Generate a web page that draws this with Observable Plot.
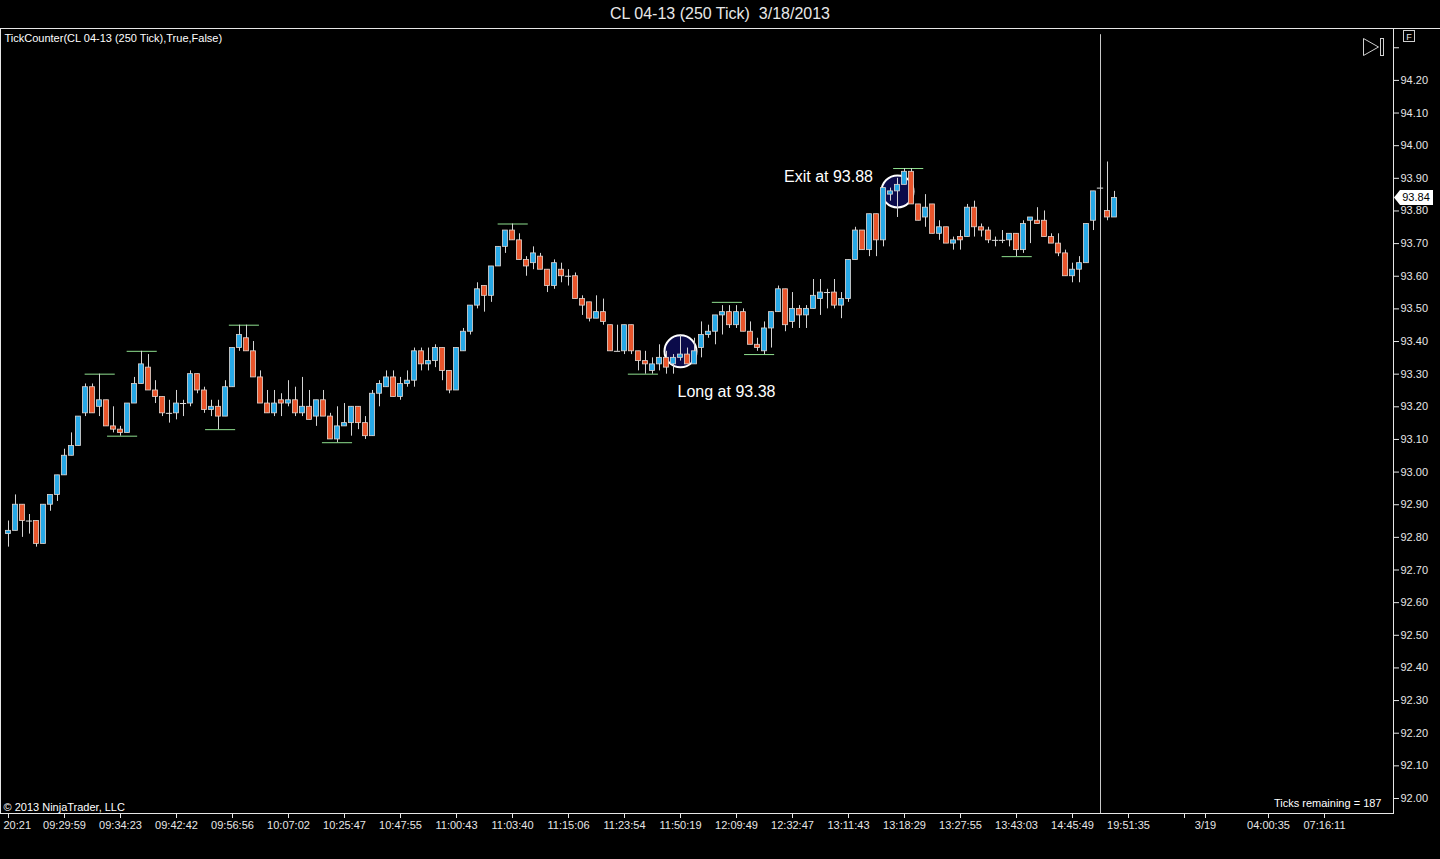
<!DOCTYPE html>
<html>
<head>
<meta charset="utf-8">
<script src="https://cdn.jsdelivr.net/npm/d3@7"></script>
<script src="https://cdn.jsdelivr.net/npm/@observablehq/plot@0.6"></script>
<style>
  body { margin: 0; background: black; overflow: hidden; }
  #title { height: 28px; text-align: center; color: #e8e8e8;
    font: 16px "Liberation Sans", Arial, sans-serif; line-height: 27px; white-space: pre; }
  #chart svg { display: block; }
</style>
</head>
<body>
<div id="title">CL 04-13 (250 Tick)  3/18/2013</div>
<div id="chart"></div>
<script>
// 250 tick candles, CL 04-13
const open = [
  92.81, 92.82, 92.90, 92.85, 92.85, 92.78, 92.90, 92.93, 92.99, 93.05,
  93.08, 93.18, 93.26, 93.20, 93.22, 93.14, 93.13, 93.12, 93.21, 93.27,
  93.32, 93.25, 93.23, 93.18, 93.18, 93.21, 93.21, 93.30, 93.25, 93.19,
  93.20, 93.17, 93.26, 93.38, 93.41, 93.37, 93.29, 93.21, 93.18, 93.22,
  93.21, 93.22, 93.18, 93.20, 93.17, 93.22, 93.17, 93.10, 93.14, 93.15,
  93.20, 93.15, 93.11, 93.24, 93.26, 93.29, 93.23, 93.27, 93.28, 93.37,
  93.33, 93.34, 93.38, 93.31, 93.25, 93.37, 93.43, 93.51, 93.57, 93.54,
  93.63, 93.69, 93.74, 93.71, 93.65, 93.64, 93.66, 93.62, 93.57, 93.62,
  93.60, 93.60, 93.53, 93.52, 93.47, 93.49, 93.45, 93.37, 93.37, 93.45,
  93.37, 93.34, 93.31, 93.33, 93.35, 93.33, 93.35, 93.36, 93.33, 93.38,
  93.42, 93.43, 93.48, 93.49, 93.45, 93.49, 93.43, 93.39, 93.37, 93.44,
  93.49, 93.56, 93.46, 93.50, 93.48, 93.50, 93.53, 93.55, 93.55, 93.51,
  93.53, 93.65, 93.74, 93.68, 93.79, 93.71, 93.85, 93.86, 93.88, 93.92,
  93.82, 93.78, 93.82, 93.73, 93.75, 93.70, 93.72, 93.72, 93.81, 93.75,
  93.74, 93.71, 93.71, 93.71, 93.73, 93.68, 93.77, 93.77, 93.77, 93.72,
  93.70, 93.67, 93.60, 93.62, 93.64, 93.77, 93.87, 93.80, 93.78
];
const high = [
  92.85, 92.93, 92.90, 92.87, 92.85, 92.90, 92.93, 92.99, 93.07, 93.12,
  93.17, 93.27, 93.27, 93.30, 93.22, 93.20, 93.14, 93.21, 93.29, 93.37,
  93.36, 93.28, 93.23, 93.22, 93.25, 93.22, 93.31, 93.30, 93.26, 93.22,
  93.22, 93.28, 93.38, 93.45, 93.45, 93.40, 93.31, 93.25, 93.25, 93.24,
  93.28, 93.26, 93.29, 93.25, 93.22, 93.25, 93.18, 93.20, 93.21, 93.20,
  93.20, 93.17, 93.25, 93.28, 93.31, 93.31, 93.29, 93.31, 93.38, 93.38,
  93.38, 93.39, 93.38, 93.31, 93.38, 93.44, 93.51, 93.58, 93.57, 93.63,
  93.69, 93.74, 93.76, 93.73, 93.66, 93.69, 93.67, 93.62, 93.65, 93.64,
  93.62, 93.61, 93.54, 93.52, 93.54, 93.53, 93.45, 93.45, 93.45, 93.45,
  93.37, 93.37, 93.35, 93.39, 93.37, 93.36, 93.42, 93.38, 93.41, 93.46,
  93.45, 93.48, 93.51, 93.51, 93.51, 93.50, 93.46, 93.41, 93.46, 93.49,
  93.57, 93.56, 93.55, 93.51, 93.51, 93.59, 93.59, 93.56, 93.59, 93.55,
  93.65, 93.75, 93.74, 93.79, 93.79, 93.87, 93.87, 93.90, 93.93, 93.93,
  93.82, 93.85, 93.82, 93.77, 93.75, 93.72, 93.74, 93.82, 93.83, 93.76,
  93.75, 93.72, 93.74, 93.73, 93.73, 93.77, 93.78, 93.81, 93.80, 93.73,
  93.73, 93.68, 93.64, 93.66, 93.76, 93.86, 93.88, 93.95, 93.86
];
const low = [
  92.77, 92.82, 92.80, 92.81, 92.77, 92.78, 92.88, 92.91, 92.99, 93.05,
  93.08, 93.17, 93.18, 93.17, 93.14, 93.12, 93.11, 93.12, 93.21, 93.27,
  93.25, 93.21, 93.17, 93.15, 93.16, 93.17, 93.20, 93.24, 93.18, 93.17,
  93.13, 93.17, 93.26, 93.37, 93.37, 93.29, 93.21, 93.18, 93.17, 93.17,
  93.20, 93.17, 93.17, 93.16, 93.14, 93.17, 93.10, 93.09, 93.14, 93.11,
  93.13, 93.10, 93.11, 93.20, 93.26, 93.23, 93.22, 93.26, 93.26, 93.31,
  93.31, 93.32, 93.28, 93.24, 93.25, 93.37, 93.42, 93.50, 93.49, 93.52,
  93.63, 93.67, 93.71, 93.65, 93.60, 93.62, 93.62, 93.55, 93.56, 93.58,
  93.57, 93.53, 93.48, 93.46, 93.47, 93.45, 93.37, 93.37, 93.36, 93.36,
  93.31, 93.30, 93.30, 93.31, 93.30, 93.30, 93.34, 93.33, 93.33, 93.35,
  93.41, 93.39, 93.42, 93.44, 93.44, 93.43, 93.39, 93.37, 93.36, 93.38,
  93.49, 93.43, 93.44, 93.44, 93.44, 93.50, 93.48, 93.50, 93.50, 93.47,
  93.52, 93.65, 93.68, 93.66, 93.66, 93.69, 93.83, 93.78, 93.88, 93.82,
  93.77, 93.75, 93.73, 93.71, 93.70, 93.68, 93.68, 93.72, 93.72, 93.72,
  93.70, 93.69, 93.70, 93.69, 93.66, 93.67, 93.70, 93.76, 93.72, 93.70,
  93.66, 93.60, 93.58, 93.58, 93.64, 93.74, 93.86, 93.77, 93.78
];
const close = [
  92.82, 92.90, 92.85, 92.85, 92.78, 92.90, 92.93, 92.99, 93.05, 93.08,
  93.17, 93.26, 93.18, 93.22, 93.14, 93.13, 93.12, 93.21, 93.27, 93.33,
  93.25, 93.23, 93.18, 93.18, 93.21, 93.21, 93.30, 93.25, 93.19, 93.20,
  93.17, 93.26, 93.38, 93.42, 93.37, 93.29, 93.21, 93.18, 93.21, 93.21,
  93.22, 93.18, 93.20, 93.16, 93.22, 93.17, 93.10, 93.14, 93.15, 93.20,
  93.15, 93.11, 93.24, 93.27, 93.29, 93.23, 93.27, 93.28, 93.37, 93.33,
  93.34, 93.38, 93.31, 93.25, 93.38, 93.43, 93.51, 93.56, 93.54, 93.63,
  93.69, 93.74, 93.71, 93.65, 93.63, 93.67, 93.62, 93.57, 93.64, 93.60,
  93.60, 93.53, 93.51, 93.47, 93.49, 93.46, 93.37, 93.37, 93.45, 93.37,
  93.34, 93.33, 93.33, 93.35, 93.32, 93.35, 93.36, 93.33, 93.37, 93.42,
  93.43, 93.48, 93.49, 93.45, 93.49, 93.43, 93.39, 93.38, 93.44, 93.49,
  93.56, 93.45, 93.50, 93.48, 93.50, 93.54, 93.55, 93.55, 93.51, 93.53,
  93.65, 93.74, 93.68, 93.79, 93.71, 93.87, 93.86, 93.88, 93.92, 93.82,
  93.77, 93.81, 93.73, 93.75, 93.70, 93.71, 93.71, 93.81, 93.75, 93.74,
  93.71, 93.71, 93.71, 93.73, 93.68, 93.76, 93.78, 93.76, 93.72, 93.70,
  93.67, 93.60, 93.62, 93.64, 93.76, 93.86, 93.87, 93.78, 93.84
];

// swing high / low markers (bar position, price)
const swingIdx = [13.1, 16.3, 19.1, 30.3, 33.7, 47, 72.1, 90.7, 102.7, 107.3, 128.6, 144.1];
const swingPrice = [93.30, 93.11, 93.37, 93.13, 93.45, 93.09, 93.76, 93.30, 93.52, 93.36, 93.93, 93.66];

// trade markers
const tradeIdx = [96, 127];
const tradePrice = [93.37, 93.86];
const tradeLabel = ["Long at 93.38", "Exit at 93.88"];

// time axis (first label is cut short on the screen: "20:21")
const timeTicks = [0, 8, 16, 24, 32, 40, 48, 56, 64, 72, 80, 88, 96, 104, 112, 120, 128, 136, 144, 152, 160, 168, 171, 180, 188];
const timeLabels = ["20:21", "09:29:59", "09:34:23", "09:42:42", "09:56:56", "10:07:02", "10:25:47", "10:47:55",
  "11:00:43", "11:03:40", "11:15:06", "11:23:54", "11:50:19", "12:09:49", "12:32:47", "13:11:43", "13:18:29",
  "13:27:55", "13:43:03", "14:45:49", "19:51:35", "", "3/19", "04:00:35", "07:16:11"];
const priceTicks = d3.range(920, 944).map(d => d / 10);

const sessionBreak = 156;
const lastPrice = 93.84;

const bars = open.map((o, i) => ({i, o, h: high[i], l: low[i], c: close[i]}));
const swings = swingIdx.map((x, k) => ({x, y: swingPrice[k]}));
const trades = tradeIdx.map((x, k) => ({x, y: tradePrice[k], label: tradeLabel[k]}));

const UP = "#27a8e6", DOWN = "#e9552b";

let chart = Plot.plot({
  width: 1440,
  height: 831,
  marginLeft: 0,
  marginRight: 47,
  marginTop: 0,
  marginBottom: 46,
  x: {domain: [-8 / 7, 1385 / 7], axis: null},
  y: {domain: [91.954, 94.359], axis: null},
  style: {background: "black", color: "#e6e6e6", fontFamily: "'Liberation Sans', Arial, sans-serif", fontSize: "11px"},
  marks: [
    Plot.axisY(priceTicks, {anchor: "right", tickSize: 5, tickPadding: 2,
      tickFormat: d => d > 94.25 ? "" : d.toFixed(2)}),
    Plot.axisX(timeTicks, {anchor: "bottom", tickSize: 5, tickPadding: 3,
      tickFormat: (d, k) => k === 0 ? "" : timeLabels[k]}),
    // first time label sits flush with the left edge
    Plot.text(timeTicks.slice(0, 1), {x: d => d, frameAnchor: "bottom", text: () => timeLabels[0],
      textAnchor: "start", lineAnchor: "top", dx: -5, dy: 8, fill: "#e6e6e6"}),
    Plot.frame({stroke: "#e6e6e6"}),
    Plot.ruleX([sessionBreak], {y1: 91.954, y2: 94.34, stroke: "#c8c8c8"}),
    Plot.dot(trades, {x: "x", y: "y", r: 16, fill: "#0b0b4a", stroke: "white", strokeWidth: 2}),
    Plot.ruleY(swings, {y: "y", x1: d => d.x - 2.15, x2: d => d.x + 2.15, stroke: "#8fe08f"}),
    Plot.ruleX(bars, {x: "i", y1: "l", y2: "h", stroke: "#d4d4d4"}),
    Plot.rect(bars.filter(d => d.o !== d.c), {
      x1: d => d.i - 0.37, x2: d => d.i + 0.37, y1: "o", y2: "c",
      fill: d => d.c > d.o ? UP : DOWN, stroke: "#e2d6d0", strokeWidth: 0.8
    }),
    Plot.ruleY(bars.filter(d => d.o === d.c), {y: "o", x1: d => d.i - 0.45, x2: d => d.i + 0.45, stroke: "#e0e0e0"}),
    Plot.text(trades.slice(0, 1), {x: "x", y: "y", text: "label", dx: 46, dy: 41, fontSize: 16, fill: "white"}),
    Plot.text(trades.slice(1), {x: "x", y: "y", text: "label", dx: -69, dy: -15, fontSize: 16, fill: "white"}),
    Plot.text(["TickCounter(CL 04-13 (250 Tick),True,False)"], {frameAnchor: "top-left", dx: 4, dy: 6, fill: "white"}),
    Plot.text(["\u00a9 2013 NinjaTrader, LLC"], {frameAnchor: "bottom-left", dx: 3, dy: -3, fill: "white"}),
    Plot.text(["Ticks remaining = 187"], {frameAnchor: "bottom-right", dx: -12, dy: -7, fill: "white"})
  ]
});

d3.select("#chart").append(() => chart);

// chrome: top line into the margin, play/pause icon, F box, last price tag
const svg = d3.select(chart);
svg.append("line").attr("x1", 1393).attr("x2", 1440).attr("y1", 0.5).attr("y2", 0.5).attr("stroke", "#e6e6e6");
svg.append("path").attr("d", "M1363.5,10.5 L1378.5,19 L1363.5,27.5 Z").attr("fill", "none").attr("stroke", "#cfcfcf");
svg.append("rect").attr("x", 1380.5).attr("y", 10.5).attr("width", 3).attr("height", 17).attr("fill", "none").attr("stroke", "#cfcfcf");
svg.append("rect").attr("x", 1403.5).attr("y", 2.5).attr("width", 11).attr("height", 11).attr("fill", "none").attr("stroke", "#cfcfcf");
svg.append("text").attr("x", 1409).attr("y", 11.5).attr("text-anchor", "middle").attr("fill", "#e6e6e6")
  .attr("font-size", 9).attr("font-family", "'Liberation Sans', Arial").text("F");
const yp = chart.scale("y").apply(lastPrice);
svg.append("path").attr("d", `M1394,${yp} L1400,${yp - 7.5} L1433,${yp - 7.5} L1433,${yp + 7.5} L1400,${yp + 7.5} Z`)
  .attr("fill", "white");
svg.append("text").attr("x", 1416).attr("y", yp + 4).attr("text-anchor", "middle").attr("fill", "black")
  .attr("font-size", 11).attr("font-family", "'Liberation Sans', Arial").text(lastPrice.toFixed(2));
</script>
</body>
</html>
